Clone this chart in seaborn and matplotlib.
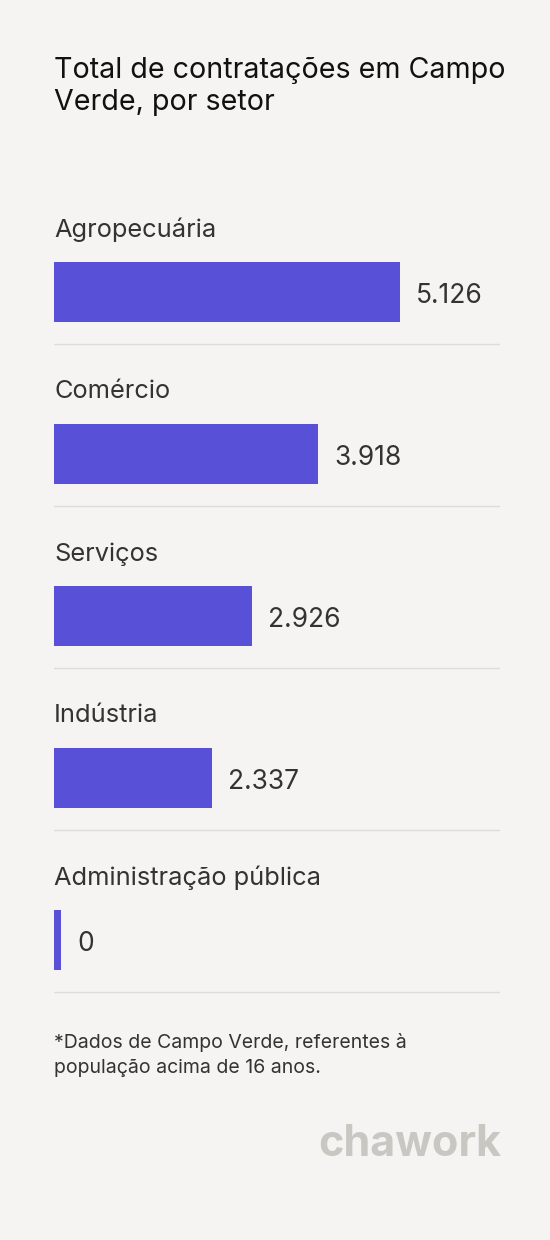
import numpy as np
import pandas as pd
import matplotlib
matplotlib.use('Agg')
import matplotlib.pyplot as plt
import seaborn as sns

# dados
setores = ['Agropecuária', 'Comércio', 'Serviços', 'Indústria', 'Administração pública']
valores = [5126, 3918, 2926, 2337, 0]
rotulos = ['5.126', '3.918', '2.926', '2.337', '0']

BG = '#f5f4f2'
BAR = '#5850d6'

sns.set_theme(style='white')
plt.rcParams['font.family'] = ['Inter', 'DejaVu Sans']

W, H = 550, 1240
fig = plt.figure(figsize=(W / 100, H / 100), dpi=100)
fig.patch.set_facecolor(BG)

# eixo: x=0 em 54px, 5126 em 400px; centro das barras em 292 + 162*i px
top_px, bot_px = 130, 1000
ax = fig.add_axes([54 / W, 1 - bot_px / H, 446 / W, (bot_px - top_px) / H])
ax.set_facecolor(BG)
xmax = 5126 * 446 / 346
minw = 7 * 5126 / 346  # largura minima visivel para barras zeradas

df = pd.DataFrame({'setor': setores, 'valor': valores})
df['plot'] = np.maximum(df['valor'], minw)
sns.barplot(data=df, x='plot', y='setor', orient='h', color=BAR,
            width=60 / 162, saturation=1, linewidth=0, ax=ax)

ax.set_xlim(0, xmax)
ax.set_ylim((bot_px - 292) / 162, (top_px - 292) / 162)
ax.axis('off')

for i, (s, v, r) in enumerate(zip(setores, df['plot'], rotulos)):
    ax.text(0, i - 62 / 162, s, ha='left', va='center', fontsize=18.3, color='#333333')
    ax.text(v + 16 * 5126 / 346, i + 4 / 162, r, ha='left', va='center', fontsize=19, color='#333333')
    ax.plot([0, xmax], [i + 52 / 162] * 2, color='#dedcd8', lw=1)

fig.text(54 / W, 1 - 70 / H, 'Total de contratações em Campo', fontsize=20.6, color='#111111', va='center')
fig.text(54 / W, 1 - 103 / H, 'Verde, por setor', fontsize=20.6, color='#111111', va='center')
fig.text(54 / W, 1 - 1043 / H, '*Dados de Campo Verde, referentes à', fontsize=14, color='#333333', va='center')
fig.text(54 / W, 1 - 1068 / H, 'população acima de 16 anos.', fontsize=14, color='#333333', va='center')
fig.text(501 / W, 1 - 1145 / H, 'chawork', fontsize=31, color='#c9c7c1', fontweight='bold',
         ha='right', va='center')

fig.savefig('out.png', dpi=100, facecolor=BG)
